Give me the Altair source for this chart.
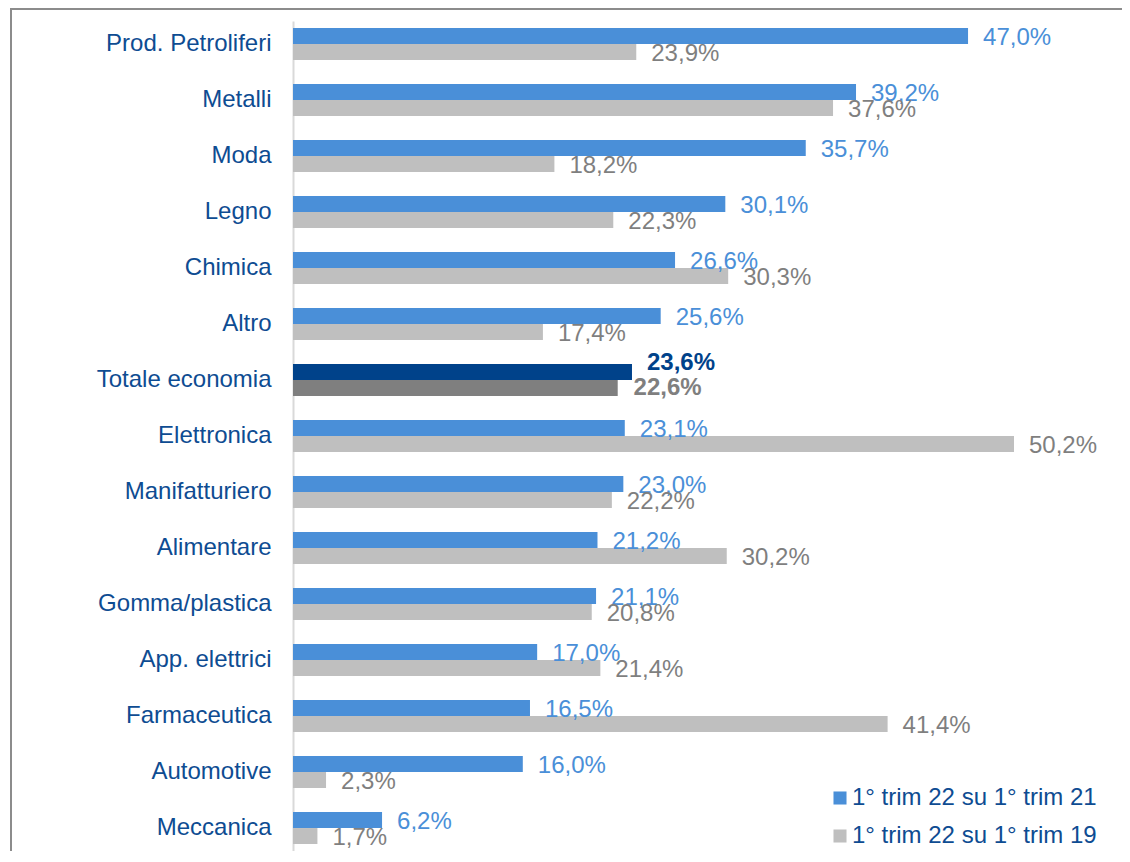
import altair as alt
import pandas as pd

categorie = ["Prod. Petroliferi", "Metalli", "Moda", "Legno", "Chimica", "Altro",
             "Totale economia", "Elettronica", "Manifatturiero", "Alimentare",
             "Gomma/plastica", "App. elettrici", "Farmaceutica", "Automotive", "Meccanica"]
serie = ["1° trim 22 su 1° trim 21", "1° trim 22 su 1° trim 19"]
val_21 = [47.0, 39.2, 35.7, 30.1, 26.6, 25.6, 23.6, 23.1, 23.0, 21.2, 21.1, 17.0, 16.5, 16.0, 6.2]
val_19 = [23.9, 37.6, 18.2, 22.3, 30.3, 17.4, 22.6, 50.2, 22.2, 30.2, 20.8, 21.4, 41.4, 2.3, 1.7]

rows = []
for c, a, b in zip(categorie, val_21, val_19):
    rows.append({"cat": c, "serie": serie[0], "v": a, "tot": c == "Totale economia"})
    rows.append({"cat": c, "serie": serie[1], "v": b, "tot": c == "Totale economia"})
df = pd.DataFrame(rows)
df["lab"] = df["v"].map(lambda x: f"{x:.1f}%".replace(".", ","))

FONT = "Liberation Sans"
LABEL_BLUE = "#0e4c92"
BLUE, GRAY = "#4a8fd8", "#bfbfbf"
DBLUE, DGRAY = "#00428a", "#7f7f7f"

W, H = 800, 830
xs = alt.Scale(domain=[0, 55.7], nice=False, zero=True)
ys = alt.Scale(domain=categorie, paddingInner=0.43, paddingOuter=0.125)
yo = alt.Scale(domain=serie, paddingInner=0, paddingOuter=0)

base = alt.Chart(df).encode(
    y=alt.Y("cat:N", scale=ys, sort=categorie, title=None,
            axis=alt.Axis(domainColor="#d9d9d9", domainWidth=2, ticks=False, grid=False,
                          labelFontSize=24, labelColor=LABEL_BLUE, labelFont=FONT,
                          labelPadding=22, labelLimit=300)),
    yOffset=alt.YOffset("serie:N", scale=yo, sort=serie),
)

bars = base.mark_bar(cornerRadius=0).encode(
    x=alt.X("v:Q", scale=xs, axis=None),
    color=alt.Color("serie:N", scale=alt.Scale(domain=serie, range=[BLUE, GRAY]), sort=serie,
                    legend=alt.Legend(title=None, orient="none", legendX=535, legendY=765,
                                      symbolType="square", symbolSize=170, symbolStrokeWidth=0,
                                      labelFontSize=24, labelColor=LABEL_BLUE, labelFont=FONT,
                                      labelLimit=500, rowPadding=14, labelOffset=0, padding=0,
                                      direction="vertical")),
)

tot_bars = base.mark_bar().encode(
    x=alt.X("v:Q", scale=xs, axis=None),
    color=alt.condition(alt.datum.serie == serie[0], alt.value(DBLUE), alt.value(DGRAY)),
).transform_filter(alt.datum.tot)

txt = base.mark_text(align="left", baseline="middle", dx=15, dy=2, fontSize=24, font=FONT).encode(
    x=alt.X("v:Q", scale=xs),
    text="lab:N",
    color=alt.condition(alt.datum.serie == serie[0], alt.value(BLUE), alt.value(DGRAY)),
).transform_filter(~alt.datum.tot)

txt_tot_a = base.mark_text(align="left", baseline="middle", dx=15, dy=-9, fontSize=24, font=FONT,
                           fontWeight="bold", color=DBLUE).encode(
    x=alt.X("v:Q", scale=xs),
    text="lab:N",
).transform_filter(alt.datum.tot & (alt.datum.serie == serie[0]))

txt_tot_b = base.mark_text(align="left", baseline="middle", dx=16, dy=0, fontSize=24, font=FONT,
                           fontWeight="bold", color=DGRAY).encode(
    x=alt.X("v:Q", scale=xs),
    text="lab:N",
).transform_filter(alt.datum.tot & (alt.datum.serie == serie[1]))

frame = alt.Chart(alt.Data(values=[{}]))
left_border = frame.mark_rule(color="#8c8c8c", strokeWidth=2).encode(
    x=alt.value(-282), y=alt.value(-13), y2=alt.value(H + 20))
top_border = frame.mark_rule(color="#8c8c8c", strokeWidth=2).encode(
    x=alt.value(-283), x2=alt.value(W + 29), y=alt.value(-12))

chart = alt.layer(bars, tot_bars, txt, txt_tot_a, txt_tot_b, left_border, top_border).properties(
    width=W, height=H,
    autosize=alt.AutoSizeParams(type="none"),
    padding={"left": 285, "top": 13, "right": 29, "bottom": 0},
).configure(background="white").configure_view(stroke="transparent", strokeWidth=0)

chart.save("out.html", embed_options={"renderer": "svg", "actions": False})
